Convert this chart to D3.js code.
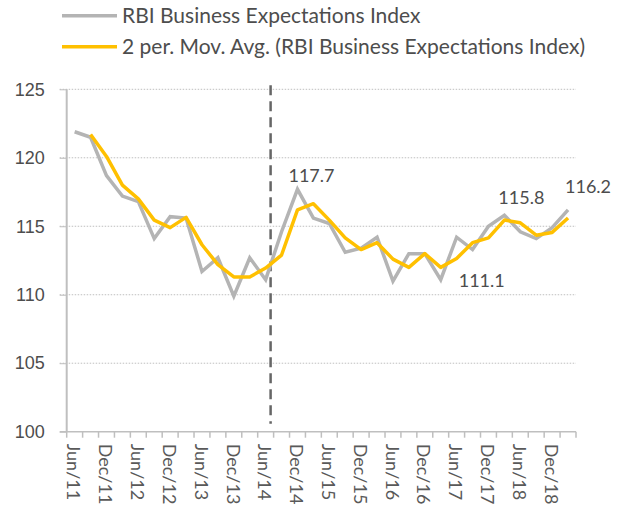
<!DOCTYPE html>
<html>
<head>
  <script src="https://d3js.org/d3.v7.min.js"></script>
  <style>
    body { margin: 0; background: #fff; font-family: Lato, sans-serif; }
    .grid line { stroke: #bfbfbf; stroke-width: 1; stroke-dasharray: 1.5 1.5; }
    .ylab { font-size: 18px; fill: #4d4d4d; text-anchor: end; }
    .xlab { font-size: 18px; fill: #595959; }
    .dlab { font-size: 18px; fill: #4d4d4d; text-anchor: middle; }
    .legend text { font-size: 21px; fill: #4d4d4d; }
  </style>
</head>
<body>
  <div id="chart"></div>
  <script>
    // quarterly, Jun/11 .. Mar/19
    const quarters = [
      "Jun/11","Sep/11","Dec/11","Mar/12","Jun/12","Sep/12","Dec/12","Mar/13",
      "Jun/13","Sep/13","Dec/13","Mar/14","Jun/14","Sep/14","Dec/14","Mar/15",
      "Jun/15","Sep/15","Dec/15","Mar/16","Jun/16","Sep/16","Dec/16","Mar/17",
      "Jun/17","Sep/17","Dec/17","Mar/18","Jun/18","Sep/18","Dec/18","Mar/19"
    ];
    const beiValues = [
      121.9, 121.5, 118.7, 117.2, 116.8, 114.1, 115.7, 115.6,
      111.7, 112.7, 109.9, 112.7, 111.1, 114.6, 117.7, 115.6,
      115.2, 113.1, 113.4, 114.2, 111.0, 113.0, 113.0, 111.1,
      114.2, 113.3, 115.0, 115.8, 114.6, 114.1, 114.9, 116.2
    ];
    const movAvgValues = [
      null, 121.7, 120.1, 118.0, 117.0, 115.45, 114.9, 115.65,
      113.65, 112.2, 111.3, 111.3, 111.95, 112.9, 116.2, 116.65,
      115.45, 114.15, 113.3, 113.8, 112.6, 112.0, 113.0, 112.0,
      112.65, 113.8, 114.15, 115.45, 115.25, 114.35, 114.55, 115.6
    ];
    const yTicks = [100, 105, 110, 115, 120, 125];
    const xTickLabels = quarters.filter(q => q.startsWith("Jun") || q.startsWith("Dec"));
    const labelled = ["Dec/14", "Mar/17", "Mar/18", "Mar/19"];
    const legendNames = ["RBI Business Expectations Index",
      "2 per. Mov. Avg. (RBI Business Expectations Index)"];

    const W = 622, H = 507;
    const margin = {top: 89.3, right: 46, bottom: 75.3, left: 66.7};

    const svg = d3.select("#chart").append("svg")
      .attr("width", W).attr("height", H);

    const x = d3.scaleBand().domain(quarters)
      .range([margin.left, W - margin.right]);
    const y = d3.scaleLinear().domain([100, 125])
      .range([H - margin.bottom, margin.top]);
    const cx = q => x(q) + x.bandwidth() / 2;

    // gridlines
    svg.append("g").attr("class", "grid")
      .selectAll("line").data(yTicks.filter(t => t > 100)).join("line")
        .attr("x1", margin.left - 7).attr("x2", W - margin.right)
        .attr("y1", d => y(d)).attr("y2", d => y(d));

    // y axis
    const yAxis = svg.append("g")
      .attr("transform", `translate(${margin.left},0)`)
      .call(d3.axisLeft(y).tickValues(yTicks).tickSize(7).tickPadding(15));
    yAxis.select(".domain").attr("stroke", "#bfbfbf").attr("stroke-width", 2)
      .attr("d", `M0,${y(125)}V${y(100)}`);
    yAxis.selectAll(".tick line").attr("stroke", "#bfbfbf");
    yAxis.selectAll(".tick text").attr("class", "ylab")
      .attr("font-family", null).attr("font-size", null).attr("fill", null);

    // x axis: ticks on category boundaries, labels on centers
    const xg = svg.append("g").attr("transform", `translate(0,${y(100)})`);
    xg.append("line").attr("x1", margin.left - 7).attr("x2", W - margin.right)
      .attr("stroke", "#bfbfbf").attr("stroke-width", 1.5);
    xg.selectAll(".xt").data(quarters.concat(["end"])).join("line")
      .attr("class", "xt")
      .attr("x1", d => d === "end" ? W - margin.right : x(d))
      .attr("x2", d => d === "end" ? W - margin.right : x(d))
      .attr("y1", 0).attr("y2", 6)
      .attr("stroke", "#bfbfbf").attr("stroke-width", 1.5);
    xg.selectAll(".xlab").data(xTickLabels).join("text")
      .attr("class", "xlab")
      .attr("transform", d => `translate(${cx(d) - 1},12) rotate(90)`)
      .attr("dy", "0.35em")
      .text(d => d);

    // dashed divider (between Jun/14 and Sep/14)
    const divX = x("Sep/14") - 3;
    svg.append("line")
      .attr("x1", divX).attr("x2", divX)
      .attr("y1", y(125) - 4).attr("y2", y(100) - 8)
      .attr("stroke", "#666").attr("stroke-width", 2.5)
      .attr("stroke-dasharray", "10 6");

    const line = d3.line()
      .defined(d => d[1] != null)
      .x(d => cx(d[0])).y(d => y(d[1]));

    svg.append("path")
      .datum(quarters.map((q, i) => [q, beiValues[i]]))
      .attr("fill", "none").attr("stroke", "#b4b4b4")
      .attr("stroke-width", 3.5).attr("stroke-linejoin", "miter")
      .attr("d", line);

    svg.append("path")
      .datum(quarters.map((q, i) => [q, movAvgValues[i]]))
      .attr("fill", "none").attr("stroke", "#ffc000")
      .attr("stroke-width", 3.5).attr("stroke-linejoin", "round")
      .attr("d", line);

    // data labels
    const labelOffset = {"Dec/14": [14, -7], "Mar/17": [41, 7], "Mar/18": [17, -11], "Mar/19": [20, -17]};
    svg.selectAll(".dlab").data(labelled).join("text")
      .attr("class", "dlab")
      .attr("x", d => cx(d) + labelOffset[d][0])
      .attr("y", d => y(beiValues[quarters.indexOf(d)]) + labelOffset[d][1])
      .text(d => beiValues[quarters.indexOf(d)].toFixed(1));

    // legend
    const legendColors = ["#b4b4b4", "#ffc000"];
    const lg = svg.append("g").attr("class", "legend");
    legendNames.forEach((name, i) => {
      const ly = 15.7 + i * 31;
      lg.append("line").attr("x1", 62).attr("x2", 117)
        .attr("y1", ly).attr("y2", ly)
        .attr("stroke", legendColors[i]).attr("stroke-width", 3.5);
      lg.append("text").attr("x", 122).attr("y", ly + 7).text(name);
    });
  </script>
</body>
</html>
